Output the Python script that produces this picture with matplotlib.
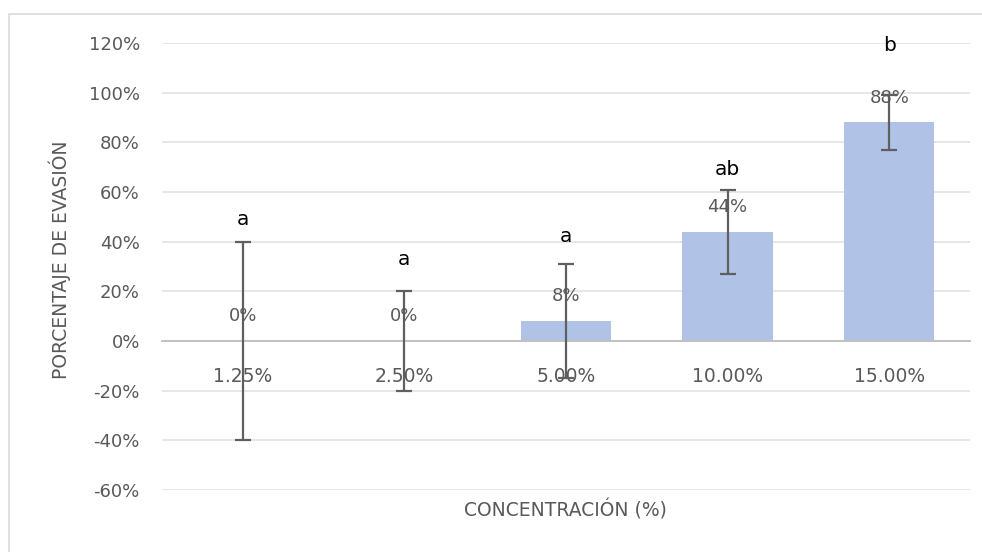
import numpy as np
import matplotlib.pyplot as plt
from matplotlib.patches import Rectangle
from matplotlib.ticker import FuncFormatter

# data
categories = ['1.25%', '2.50%', '5.00%', '10.00%', '15.00%']
values = [0, 0, 8, 44, 88]           # porcentaje de evasion
errors = [40, 20, 23, 17, 11]        # +/- error bar
letters = ['a', 'a', 'a', 'ab', 'b']
letter_y = [49, 33, 42, 69, 119]     # where the significance letters sit

plt.rcParams['font.family'] = ['DejaVu Sans']
txt = '#595959'

fig = plt.figure(figsize=(9.82, 5.52), dpi=100)
# light chart frame
fig.patches.append(Rectangle((9 / 982, -0.05), 1.2, 1 - 14 / 552 + 0.05,
                             transform=fig.transFigure, fill=False,
                             edgecolor='#D9D9D9', lw=1.2))
ax = fig.add_axes([162 / 982, 1 - 490 / 552, 808 / 982, 447 / 552])

x = np.arange(len(categories))
ax.bar(x, values, width=0.56, color='#B0C3E6', zorder=2)
ax.errorbar(x, values, yerr=errors, fmt='none', ecolor='#5F5F5F',
            elinewidth=1.6, capsize=6, capthick=1.6, zorder=3)

for xi, v in zip(x, values):
    ax.text(xi, v + 10, f'{v}%', ha='center', va='center',
            fontsize=13, color=txt, zorder=4)
for xi, lt, ly in zip(x, letters, letter_y):
    ax.text(xi, ly, lt, ha='center', va='center', fontsize=14.5,
            color='black', zorder=4)

ax.set_xlim(-0.5, len(categories) - 0.5)
ax.set_ylim(-60, 120)
ax.set_yticks(np.arange(-60, 121, 20))
ax.yaxis.set_major_formatter(FuncFormatter(lambda v, p: f'{v:.0f}%'))
ax.grid(axis='y', color='#E3E3E3', lw=1.2, zorder=0)
ax.set_axisbelow(True)

for s in ['top', 'right', 'left']:
    ax.spines[s].set_visible(False)
ax.spines['bottom'].set_position(('data', 0))
ax.spines['bottom'].set_color('#BFBFBF')
ax.spines['bottom'].set_linewidth(1.3)

ax.set_xticks(x)
ax.set_xticklabels(categories)
ax.tick_params(axis='x', length=0, pad=19, labelsize=13.5, labelcolor=txt)
ax.tick_params(axis='y', length=0, pad=16, labelsize=13, labelcolor=txt)

fig.text(565 / 982, 1 - 510 / 552, 'CONCENTRACIÓN (%)', ha='center', va='center',
         fontsize=13.5, color=txt)
fig.text(60 / 982, 1 - 260 / 552, 'PORCENTAJE DE EVASIÓN', ha='center', va='center',
         rotation=90, fontsize=13.5, color=txt)

fig.savefig('out.png', dpi=100)
